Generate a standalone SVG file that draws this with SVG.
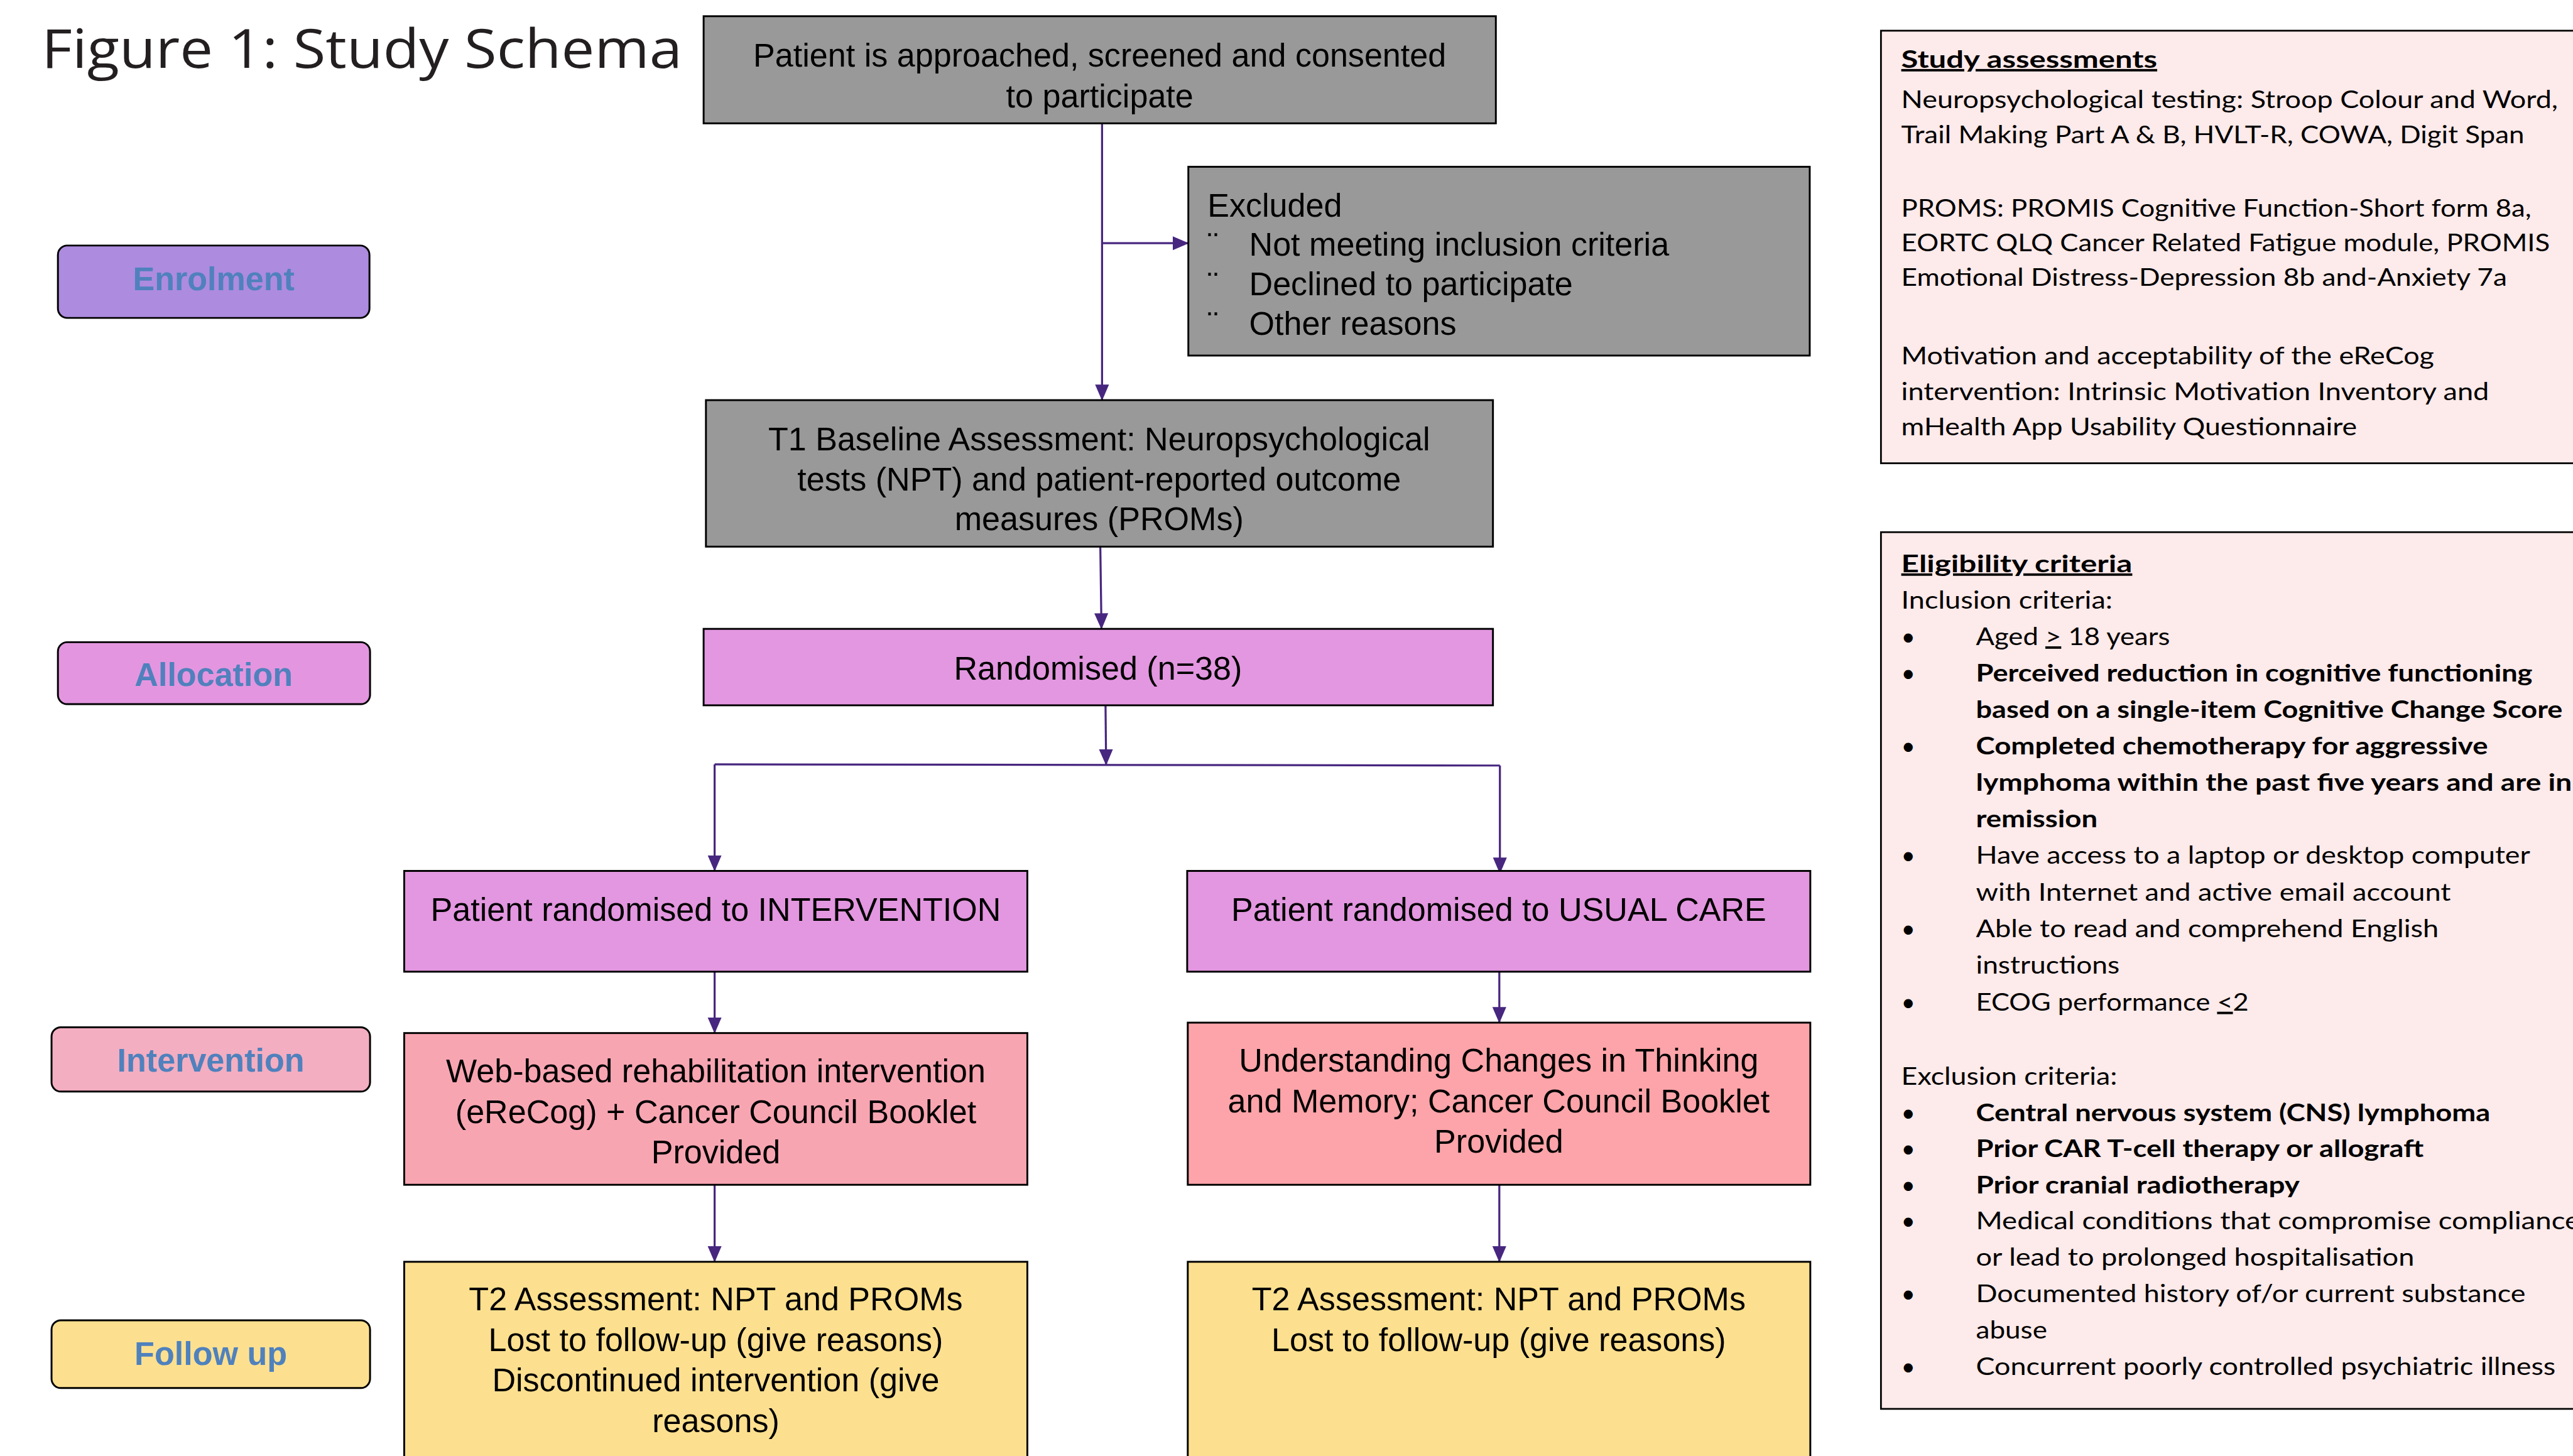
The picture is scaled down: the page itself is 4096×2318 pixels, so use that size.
<svg xmlns="http://www.w3.org/2000/svg" width="4096" height="2318" viewBox="0 0 4096 2318">
<defs>
<style>
.box{stroke:#000;stroke-width:3.2}
.lbl{stroke:#000;stroke-width:3.2}
.t{font-family:"Liberation Sans",Arial,sans-serif;font-size:56.5px;fill:#000;text-anchor:middle}
.tl{font-family:"Liberation Sans",Arial,sans-serif;font-size:56.5px;fill:#000}
.lt{font-family:"Liberation Sans",Arial,sans-serif;font-weight:bold;font-size:56.5px;fill:#4f81bd;text-anchor:middle}
.p{font-family:Lato,"Open Sans",sans-serif;font-size:42px;fill:#000}
.b{font-weight:bold}
.u{text-decoration:underline}
.conn{stroke:#47267f;stroke-width:3.5;fill:none}
.title{font-family:"Open Sans","Noto Sans",sans-serif;font-size:94px;fill:#231f20}
</style>
<marker id="arr" markerUnits="userSpaceOnUse" markerWidth="28" markerHeight="26" viewBox="0 0 28 26" refX="27" refY="13" orient="auto">
<path d="M0,1 L28,13 L0,25 z" fill="#47267f"/>
</marker>
</defs>
<rect x="0" y="0" width="4096" height="2318" fill="#fff"/>
<g transform="scale(0.9219)">
<g id="title"><text class="title" x="72" y="117" textLength="1106" lengthAdjust="spacingAndGlyphs">Figure 1: Study Schema</text></g>

<g id="label-enrolment"><rect class="lbl" x="100" y="424" width="538" height="125" rx="16" fill="#ad8bdf"/><text class="lt" x="369" y="501">Enrolment</text></g>
<g id="label-allocation"><rect class="lbl" x="100" y="1109" width="539" height="107" rx="16" fill="#e396df"/><text class="lt" x="369" y="1185">Allocation</text></g>
<g id="label-intervention"><rect class="lbl" x="89" y="1774" width="550" height="111" rx="16" fill="#f3aec1"/><text class="lt" x="364" y="1851">Intervention</text></g>
<g id="label-followup"><rect class="lbl" x="89" y="2280" width="550" height="117" rx="16" fill="#fde08f"/><text class="lt" x="364" y="2357">Follow up</text></g>

<g id="connectors">
<line class="conn" x1="1903" y1="213" x2="1903" y2="691" marker-end="url(#arr)"/>
<line class="conn" x1="1903" y1="420" x2="2052" y2="420" marker-end="url(#arr)"/>
<line class="conn" x1="1900" y1="944" x2="1902" y2="1086" marker-end="url(#arr)"/>
<line class="conn" x1="1909" y1="1218" x2="1910" y2="1321" marker-end="url(#arr)"/>
<line class="conn" x1="1234" y1="1320" x2="2590" y2="1322"/>
<line class="conn" x1="1234" y1="1320" x2="1234" y2="1504" marker-end="url(#arr)"/>
<line class="conn" x1="2590" y1="1322" x2="2590" y2="1508" marker-end="url(#arr)"/>
<line class="conn" x1="1234" y1="1678" x2="1234" y2="1784" marker-end="url(#arr)"/>
<line class="conn" x1="2589" y1="1678" x2="2589" y2="1766" marker-end="url(#arr)"/>
<line class="conn" x1="1234" y1="2046" x2="1234" y2="2179" marker-end="url(#arr)"/>
<line class="conn" x1="2589" y1="2046" x2="2589" y2="2179" marker-end="url(#arr)"/>
</g>

<g id="node-consent"><rect class="box" x="1215" y="28" width="1368" height="185" fill="#999999"/>
<text class="t" x="1899" y="115">Patient is approached, screened and consented</text>
<text class="t" x="1899" y="185">to participate</text></g>

<g id="node-excluded"><rect class="box" x="2052" y="288" width="1073" height="326" fill="#999999"/>
<text class="tl" x="2085" y="374">Excluded</text>
<text class="tl" x="2085" y="442">¨</text><text class="tl" x="2157" y="442">Not meeting inclusion criteria</text>
<text class="tl" x="2085" y="510">¨</text><text class="tl" x="2157" y="510">Declined to participate</text>
<text class="tl" x="2085" y="578">¨</text><text class="tl" x="2157" y="578">Other reasons</text></g>

<g id="node-baseline"><rect class="box" x="1219" y="691" width="1359" height="253" fill="#999999"/>
<text class="t" x="1898" y="778">T1 Baseline Assessment: Neuropsychological</text>
<text class="t" x="1898" y="847">tests (NPT) and patient-reported outcome</text>
<text class="t" x="1898" y="915">measures (PROMs)</text></g>

<g id="node-randomised"><rect class="box" x="1215" y="1086" width="1363" height="132" fill="#e397e0"/>
<text class="t" x="1896" y="1174">Randomised (n=38)</text></g>

<g id="node-rand-intervention"><rect class="box" x="698" y="1504" width="1076" height="174" fill="#e397e0"/>
<text class="t" x="1236" y="1590">Patient randomised to INTERVENTION</text></g>

<g id="node-rand-usual"><rect class="box" x="2050" y="1504" width="1076" height="174" fill="#e397e0"/>
<text class="t" x="2588" y="1590">Patient randomised to USUAL CARE</text></g>

<g id="node-ereCog"><rect class="box" x="698" y="1784" width="1076" height="262" fill="#f8a5b2"/>
<text class="t" x="1236" y="1869">Web-based rehabilitation intervention</text>
<text class="t" x="1236" y="1939">(eReCog) + Cancer Council Booklet</text>
<text class="t" x="1236" y="2009">Provided</text></g>

<g id="node-booklet"><rect class="box" x="2051" y="1766" width="1075" height="280" fill="#fca4a9"/>
<text class="t" x="2588" y="1851">Understanding Changes in Thinking</text>
<text class="t" x="2588" y="1921">and Memory; Cancer Council Booklet</text>
<text class="t" x="2588" y="1991">Provided</text></g>

<g id="node-t2-intervention"><rect class="box" x="698" y="2179" width="1076" height="360" fill="#fde08f"/>
<text class="t" x="1236" y="2263">T2 Assessment: NPT and PROMs</text>
<text class="t" x="1236" y="2333">Lost to follow-up (give reasons)</text>
<text class="t" x="1236" y="2403">Discontinued intervention (give</text>
<text class="t" x="1236" y="2473">reasons)</text></g>

<g id="node-t2-usual"><rect class="box" x="2051" y="2179" width="1075" height="360" fill="#fde08f"/>
<text class="t" x="2588" y="2263">T2 Assessment: NPT and PROMs</text>
<text class="t" x="2588" y="2333">Lost to follow-up (give reasons)</text></g>

<g id="panel-assessments"><rect x="3248" y="53" width="1230" height="747" fill="#fdeaea" stroke="#000" stroke-width="3"/>
<text class="p b u" x="3283" y="117" textLength="442" lengthAdjust="spacingAndGlyphs">Study assessments</text>
<text class="p" x="3283" y="187" textLength="1134" lengthAdjust="spacingAndGlyphs">Neuropsychological testing: Stroop Colour and Word,</text>
<text class="p" x="3283" y="247" textLength="1076" lengthAdjust="spacingAndGlyphs">Trail Making Part A &amp; B, HVLT-R, COWA, Digit Span</text>
<text class="p" x="3283" y="374" textLength="1088" lengthAdjust="spacingAndGlyphs">PROMS: PROMIS Cognitive Function-Short form 8a,</text>
<text class="p" x="3283" y="434" textLength="1120" lengthAdjust="spacingAndGlyphs">EORTC QLQ Cancer Related Fatigue module, PROMIS</text>
<text class="p" x="3283" y="494" textLength="1046" lengthAdjust="spacingAndGlyphs">Emotional Distress-Depression 8b and-Anxiety 7a</text>
<text class="p" x="3283" y="629" textLength="920" lengthAdjust="spacingAndGlyphs">Motivation and acceptability of the eReCog</text>
<text class="p" x="3283" y="691" textLength="1015" lengthAdjust="spacingAndGlyphs">intervention: Intrinsic Motivation Inventory and</text>
<text class="p" x="3283" y="752" textLength="787" lengthAdjust="spacingAndGlyphs">mHealth App Usability Questionnaire</text></g>

<g id="panel-eligibility"><rect x="3248" y="919" width="1230" height="1514" fill="#fdeaea" stroke="#000" stroke-width="3"/>
<text class="p b u" x="3283" y="988" textLength="399" lengthAdjust="spacingAndGlyphs">Eligibility criteria</text>
<text class="p" x="3283" y="1051" textLength="365" lengthAdjust="spacingAndGlyphs">Inclusion criteria:</text>
<text class="p" x="3283" y="1114">•</text><text class="p" x="3412" y="1114" textLength="335" lengthAdjust="spacingAndGlyphs">Aged <tspan class="u">&gt;</tspan> 18 years</text>
<text class="p" x="3283" y="1177">•</text><text class="p b" x="3412" y="1177" textLength="961" lengthAdjust="spacingAndGlyphs">Perceived reduction in cognitive functioning</text>
<text class="p b" x="3412" y="1240" textLength="1013" lengthAdjust="spacingAndGlyphs">based on a single-item Cognitive Change Score</text>
<text class="p" x="3283" y="1303">•</text><text class="p b" x="3412" y="1303" textLength="884" lengthAdjust="spacingAndGlyphs">Completed chemotherapy for aggressive</text>
<text class="p b" x="3412" y="1366" textLength="1029" lengthAdjust="spacingAndGlyphs">lymphoma within the past five years and are in</text>
<text class="p b" x="3412" y="1429" textLength="210" lengthAdjust="spacingAndGlyphs">remission</text>
<text class="p" x="3283" y="1492">•</text><text class="p" x="3412" y="1492" textLength="957" lengthAdjust="spacingAndGlyphs">Have access to a laptop or desktop computer</text>
<text class="p" x="3412" y="1555" textLength="820" lengthAdjust="spacingAndGlyphs">with Internet and active email account</text>
<text class="p" x="3283" y="1618">•</text><text class="p" x="3412" y="1618" textLength="799" lengthAdjust="spacingAndGlyphs">Able to read and comprehend English</text>
<text class="p" x="3412" y="1681" textLength="248" lengthAdjust="spacingAndGlyphs">instructions</text>
<text class="p" x="3283" y="1745">•</text><text class="p" x="3412" y="1745" textLength="471" lengthAdjust="spacingAndGlyphs">ECOG performance <tspan class="u">&lt;</tspan>2</text>
<text class="p" x="3283" y="1873" textLength="373" lengthAdjust="spacingAndGlyphs">Exclusion criteria:</text>
<text class="p" x="3283" y="1936">•</text><text class="p b" x="3412" y="1936" textLength="888" lengthAdjust="spacingAndGlyphs">Central nervous system (CNS) lymphoma</text>
<text class="p" x="3283" y="1998">•</text><text class="p b" x="3412" y="1998" textLength="773" lengthAdjust="spacingAndGlyphs">Prior CAR T-cell therapy or allograft</text>
<text class="p" x="3283" y="2061">•</text><text class="p b" x="3412" y="2061" textLength="559" lengthAdjust="spacingAndGlyphs">Prior cranial radiotherapy</text>
<text class="p" x="3283" y="2123">•</text><text class="p" x="3412" y="2123" textLength="1043" lengthAdjust="spacingAndGlyphs">Medical conditions that compromise compliance</text>
<text class="p" x="3412" y="2186" textLength="757" lengthAdjust="spacingAndGlyphs">or lead to prolonged hospitalisation</text>
<text class="p" x="3283" y="2249">•</text><text class="p" x="3412" y="2249" textLength="949" lengthAdjust="spacingAndGlyphs">Documented history of/or current substance</text>
<text class="p" x="3412" y="2312" textLength="123" lengthAdjust="spacingAndGlyphs">abuse</text>
<text class="p" x="3283" y="2375">•</text><text class="p" x="3412" y="2375" textLength="1001" lengthAdjust="spacingAndGlyphs">Concurrent poorly controlled psychiatric illness</text></g>
</g>
</svg>
